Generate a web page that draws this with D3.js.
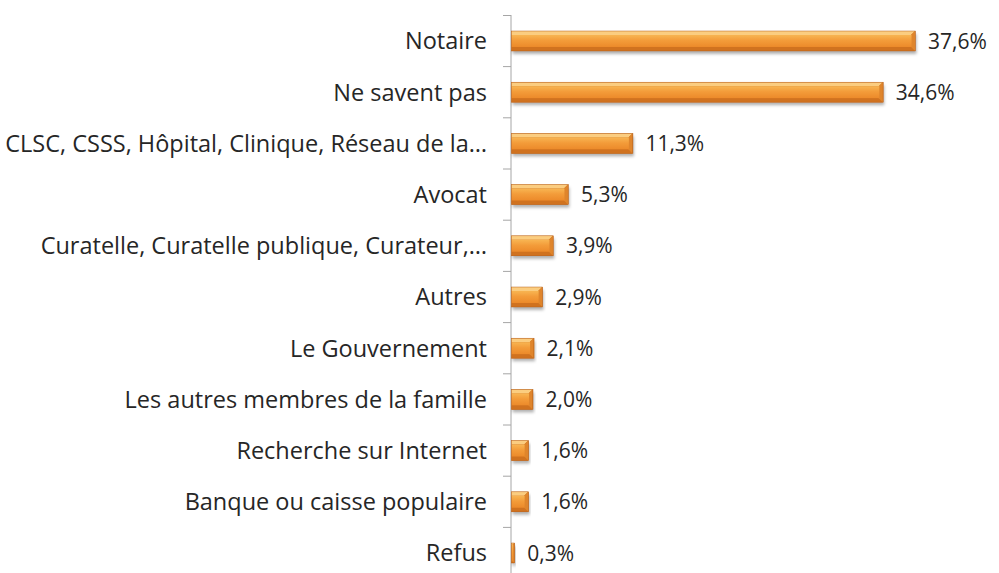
<!DOCTYPE html>
<html>
<head>
<meta charset="utf-8">
<script src="https://cdn.jsdelivr.net/npm/d3@7"></script>
<style>
  body { margin: 0; background: #fff; }
  svg { display: block; font-family: "Open Sans", "Noto Sans", sans-serif; }
</style>
</head>
<body>
<svg></svg>
<script>
// data
const categories = [
  'Notaire', 'Ne savent pas', 'CLSC, CSSS, Hôpital, Clinique, Réseau de la…',
  'Avocat', 'Curatelle, Curatelle publique, Curateur,…', 'Autres',
  'Le Gouvernement', 'Les autres membres de la famille',
  'Recherche sur Internet', 'Banque ou caisse populaire', 'Refus'
];
const values = [37.6, 34.6, 11.3, 5.3, 3.9, 2.9, 2.1, 2.0, 1.6, 1.6, 0.3];

const width = 999, height = 573;
const svg = d3.select('svg').attr('width', width).attr('height', height);

const x0 = 511;
const x = d3.scaleLinear().domain([0, 37.6]).range([x0, 915]);
const y = d3.scaleBand().domain(categories).range([15.4, 578.6]).paddingInner(0.61).paddingOuter(0.305);

const defs = svg.append('defs');
const grad = defs.append('linearGradient').attr('id', 'face').attr('x1', 0).attr('y1', 0).attr('x2', 0).attr('y2', 1);
grad.append('stop').attr('offset', '0%').attr('stop-color', '#f8b552');
grad.append('stop').attr('offset', '45%').attr('stop-color', '#f39c3a');
grad.append('stop').attr('offset', '100%').attr('stop-color', '#ec8a2a');
const shadow = defs.append('filter').attr('id', 'shadow').attr('x', '-5%').attr('y', '-30%').attr('width', '115%').attr('height', '180%');
shadow.append('feDropShadow').attr('dx', 1).attr('dy', 3).attr('stdDeviation', 1.8)
  .attr('flood-color', '#000').attr('flood-opacity', 0.3);

// axis line and ticks
const bounds = categories.map(c => y(c) - y.step() * y.paddingInner() / 2).slice(1);
svg.append('line')
  .attr('x1', x0).attr('x2', x0).attr('y1', 15).attr('y2', height)
  .attr('stroke', '#a6a6a6').attr('stroke-width', 1);
svg.selectAll('.tick').data(bounds).enter().append('line')
  .attr('x1', x0 - 8).attr('x2', x0).attr('y1', d => d).attr('y2', d => d)
  .attr('stroke', '#a6a6a6');
svg.append('line').attr('x1', x0 - 8).attr('x2', x0).attr('y1', 15.5).attr('y2', 15.5).attr('stroke', '#a6a6a6');

// bars
const bh = y.bandwidth();
const bar = svg.selectAll('.bar').data(values).enter().append('g')
  .attr('transform', (d, i) => `translate(0,${y(categories[i])})`);

bar.each(function (d) {
  const g = d3.select(this);
  const x1 = x(d), w = x1 - x0;
  const b = Math.min(4, w / 2);
  // base with shadow
  g.append('rect').attr('x', x0 + 0.5).attr('y', 0).attr('width', w).attr('height', bh)
    .attr('fill', '#c96d1f').attr('filter', 'url(#shadow)');
  // top bevel
  g.append('polygon')
    .attr('points', `${x0 + 0.5},0 ${x1},0 ${x1 - b},${b} ${x0 + 0.5},${b}`)
    .attr('fill', '#fbcd80');
  // bottom bevel
  g.append('polygon')
    .attr('points', `${x0 + 0.5},${bh} ${x1},${bh} ${x1 - b},${bh - b} ${x0 + 0.5},${bh - b}`)
    .attr('fill', '#d0721f');
  // right bevel
  g.append('polygon')
    .attr('points', `${x1},0 ${x1},${bh} ${x1 - b},${bh - b} ${x1 - b},${b}`)
    .attr('fill', '#df852c');
  // face
  g.append('rect').attr('x', x0 + 0.5).attr('y', b).attr('width', Math.max(0, w - b)).attr('height', bh - 2 * b)
    .attr('fill', 'url(#face)');
  g.append('rect').attr('x', x0 + 0.5).attr('y', 0).attr('width', w).attr('height', bh)
    .attr('fill', 'none').attr('stroke', '#b8621c').attr('stroke-width', 0.5);
});

// value labels
svg.selectAll('.val').data(values).enter().append('text')
  .attr('x', d => x(d) + 13)
  .attr('y', (d, i) => y(categories[i]) + bh / 2)
  .attr('dy', '0.36em')
  .attr('font-size', 21)
  .attr('fill', '#262626')
  .text(d => d.toFixed(1).replace('.', ',') + '%');

// category labels
svg.selectAll('.cat').data(categories).enter().append('text')
  .attr('x', x0 - 24)
  .attr('y', d => y(d) + bh / 2)
  .attr('dy', '0.36em')
  .attr('text-anchor', 'end')
  .attr('font-size', 23.5)
  .attr('fill', '#262626')
  .text(d => d);
</script>
</body>
</html>
